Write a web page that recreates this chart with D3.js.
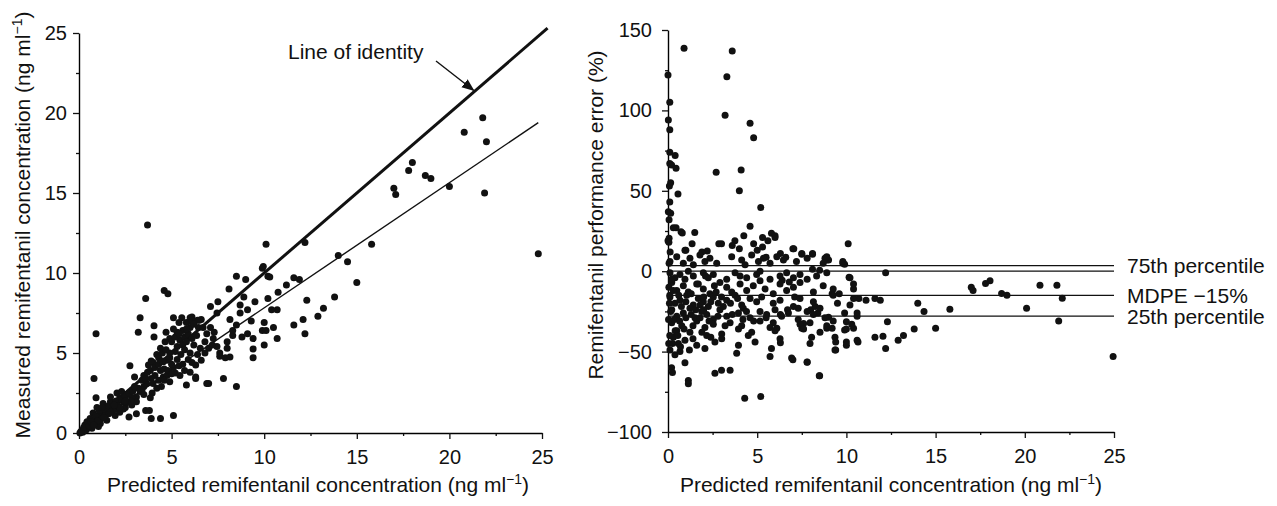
<!DOCTYPE html>
<html>
<head>
<meta charset="utf-8">
<script src="https://cdn.jsdelivr.net/npm/d3@7"></script>
<style>
  body { margin: 0; background: #fff; }
  svg text { font-family: "Liberation Sans", Arial, Helvetica, sans-serif; fill: #111; }
</style>
</head>
<body>
<svg id="chart" width="1277" height="506"></svg>
<script>
// predicted vs measured remifentanil (ng/ml)
const measuredPoints = [
  [20.8,18.8],[21.8,19.7],[22.0,18.2],[18.0,16.9],[17.8,16.4],[18.7,16.1],[19.0,15.9],[17.0,15.3],[17.1,14.9],
  [20.0,15.4],[21.9,15.0],[15.8,11.8],[12.2,11.9],[14.0,11.1],[24.8,11.2],[14.5,10.7],[15.0,9.4],[12.3,8.3],
  [13.8,8.5],[13.2,7.8],[12.9,7.3],[12.1,7.1],[12.2,6.2],[11.9,9.6],[3.7,13.0],[10.1,11.8],
  [0.92,6.2],[0.81,3.4],[0.92,2.2],[3.6,8.4],[4.6,8.9],[4.8,8.7],[3.3,7.2],[3.2,6.3],[4.05,6.7],[4.05,6.0],
  [2.75,4.2],[3.0,3.5],[3.6,1.4],[3.9,0.9],[5.1,1.1],[2.7,1.0],[3.1,1.2],[5.1,7.2],[6.0,7.2],[6.6,7.1],
  [5.8,3.0],[6.3,3.4],[6.9,3.1],[7.8,3.4],[8.5,2.9],[7.1,7.9],[7.5,8.2],[8.1,9.0],[8.5,9.8],[9.0,9.6],
  [9.9,10.3],[10.2,9.8],[11.6,9.7],[11.6,6.75],[10.7,7.7],[10.7,5.9],[10.5,6.6],[10.0,5.5],[9.4,4.7],
  [9.4,5.25],[9.9,6.4],[10.0,6.9],[9.3,7.0],[9.5,8.2],[9.1,7.7],[8.9,8.5],[8.7,8.0],[8.7,7.5],[9.1,6.2],
  [9.4,5.9],[8.3,6.1],[8.0,5.7],[7.6,5.0],[7.6,4.8],[7.9,4.7],[8.15,4.75],[8.0,5.3],[8.3,6.4],[8.5,6.75],
  [8.15,7.1],[7.45,7.5],[7.1,6.6],[6.9,6.2],[7.25,5.9],[7.45,5.4],[6.55,5.3],[6.6,4.55],[6.3,4.25],[6.0,3.8],
  [5.7,3.9],[5.45,3.6],[5.2,3.75],[5.1,4.1],[4.75,4.55],[4.9,5.0],[5.3,5.4],[5.45,5.8],[5.7,6.0],[5.9,6.2],
  [6.1,5.9],[6.35,6.1],[6.45,6.6],[6.0,6.6],[5.6,6.4],[5.3,6.3],[4.9,5.9],[4.65,5.7],[4.4,5.3],[4.2,4.9],
  [4.55,4.45],[4.0,4.4],[3.75,4.25],[3.85,3.9],[4.1,3.6],[4.3,3.3],[4.4,3.9],[4.55,3.5],[4.75,3.6],[4.9,3.2],
  [4.45,2.9],[4.2,2.8],[3.95,2.5],[3.85,2.2],[3.65,3.1],[3.4,3.3],[3.5,2.9],[3.3,2.6],[3.1,2.25],[2.85,2.2],
  [2.6,2.4],[2.4,1.95],[2.2,2.2],[2.05,1.85],[1.85,1.6],[1.7,1.95],[1.5,1.55],[1.3,1.3],[1.15,1.1],[0.97,0.9],
  [0.76,0.7],[0.6,0.5],[0.43,0.4],[0.22,0.2],[0.16,0.1],[1.15,0.6],[1.5,0.8],[1.95,1.1],[2.2,1.3],[2.5,1.6],
  [2.85,1.75],[3.1,1.95],[1.05,0.4],[0.7,0.3],[0.5,0.6],[0.32,0.5],[0.05,0.0],[0.2,0.05],[1.7,2.25],[1.3,1.85],
  [0.97,1.6],[0.76,1.25],[0.6,0.9],[0.43,0.7],[2.05,2.5],[2.3,2.6],[9.95,10.4],[10.75,8.8],[11.2,9.25],
  [5.55,7.2],[6.5,7.05],[5.8,6.9],[6.1,6.95],[10.3,9.75],[10.2,8.4],[10.4,7.7],[10.1,6.4],[8.8,6.0],
  [7.0,3.1],[6.3,3.5],[6.1,7.25],[6.4,7.05],[3.8,1.4],[4.4,0.9],
  [1.4,1.4],[1.6,1.7],[1.8,1.9],[2.0,2.0],[2.3,2.1],[2.5,2.3],[2.7,2.5],[2.9,2.6],[1.2,0.9],[1.4,1.1],
  [1.6,1.2],[1.8,1.4],[2.0,1.5],[0.85,0.65],[0.3,0.3],[0.4,0.2],[0.1,0.1],[0.25,0.35],[0.55,0.45],
  [0.65,0.7],[0.9,1.1],[1.1,1.4],[1.25,1.6],[3.2,2.8],[3.5,3.6],[3.7,3.8],[3.9,4.5],[4.3,4.7],[4.5,5.0],
  [4.7,5.2],[5.0,5.7],[5.2,6.0],[5.4,6.2],[5.6,5.5],[5.8,5.7],[5.0,4.3],[5.3,4.6],[5.5,4.9],[5.7,5.2],
  [6.2,5.5],[6.8,5.7],[7.0,5.3],[6.0,5.0],[4.6,4.0],[4.8,3.9],
  [4.1,4.1],[4.3,4.3],[3.9,3.4],[3.6,3.4],[3.4,2.7],[3.0,2.9],[2.8,2.0],[2.6,1.9],[2.4,1.5],[3.5,2.4],
  [4.0,3.1],[4.6,3.3],[5.0,3.7],[5.4,4.2],[5.6,4.3],[5.9,4.6],[6.1,4.4],[6.4,4.9],[6.8,5.0],[7.2,5.5],
  [5.2,5.1],[4.9,4.7],[4.5,4.5],[5.8,6.5],[6.2,6.8],[5.4,6.9],[4.7,6.3],[5.1,6.5],[6.7,6.6],[7.3,6.3],
  [1.0,0.75],[0.8,0.5],[1.35,0.95],[1.7,1.3],[2.1,1.7],[2.5,2.0],[2.2,1.6],[1.9,1.75]
];

// predicted vs performance error (%)
const errorPoints = [
  [0.9,138.7],[3.6,137],[3.3,121],[0,122],[0.1,105],[0.02,94],[0.1,88],[3.2,97],[4.6,92],[4.8,83],
  [0.1,74],[0.4,72],[0.1,67],[0.2,66],[0.45,64],[2.7,61.5],[4.1,63],[4.0,50],[0.15,55],[0.08,53],
  [0.56,48],[0.1,43],[0.02,37],[0.15,36],[0.06,32],[5.2,39.6],[4.6,28],[0.45,27],[0.73,24.5],[1.5,24],
  [0,19],[0.06,20.5],[2.85,17],[3.75,19],[4.25,22],[5.3,21],[1.35,17],[1.0,13],[2.2,12.5],
  [0.3,27],[0.8,23.7],[0.05,18],[3.0,17],[5.6,19],[6.0,22],[7.05,14],[7.5,10.5],[8.1,10.5],[10.1,17],
  [0.95,13],[1.9,12],[3.6,16],[4.0,14],[4.8,17],[5.0,13],[5.3,15],[5.5,8.7],[6.3,11],[6.6,8.7],
  [8.9,7],[9.8,5],[8.1,1.2],[8.5,0.6],
  [12.2,-1],[9.0,7],[9.9,4.3],[10.15,-3.7],[10.4,-11],[10.7,-17],[11.1,-18],[11.6,-17],[11.9,-18],
  [10.6,-26],[12.3,-31.5],[14.0,-20],[14.35,-25],[15.8,-23.6],[17.0,-10],[17.1,-12],[17.8,-7.6],[18.05,-6],
  [18.7,-13.8],[19.0,-15],[20.1,-23],[20.85,-8.7],[21.8,-8.7],[22.1,-16.8],[21.9,-31],[24.95,-53],
  [15.0,-35.5],[13.8,-36],[13.2,-40],[12.9,-43],[12.2,-48],[12.05,-40.5],[11.6,-41],[10.65,-44],[10.0,-44],
  [9.4,-44],[9.4,-49],[8.5,-65],[7.8,-56.6],[7.0,-55],[6.3,-44.5],[5.8,-48],[5.2,-78],[4.3,-79],
  [10.0,-31.5],[9.9,-36.6],[10.4,-35.5],[9.0,-28.6],[8.9,-35.5],[9.2,-35.5],[9.5,-20],[9.2,-14],[9.6,-14],
  [10.4,-17],[8.0,-24],[8.25,-22],[8.4,-26],[7.6,-32.6],[7.5,-35.5],[8.05,-41],[7.0,14],[7.5,11],[8.1,11],
  [8.8,8],[6.0,21],[5.8,23.6],[6.4,-5.6],[6.8,-6.7],[7.1,-16],[6.7,-24],[7.3,-23],[6.3,-27],
  [5.9,-32],[6.1,-35.5],[5.5,-29],
  [0.2,-60],[0.25,-63],[0.95,-57],[2.63,-63.5],[3.0,-61.6],[3.48,-61.6],[1.14,-68],[1.14,-70],[6.93,-54],
  [7.8,-56.5],[8.48,-65],
  [0.11,6],[0.49,9],[0.86,5],[1.23,8],[1.42,4],[1.79,10],[2.07,6],[2.35,8],[2.73,5],[3.57,9],[4.13,7],
  [4.32,4],[4.69,10],[5.07,6],[5.35,8],[5.72,5],[6.1,9],[6.47,7],[7.2,6],[7.8,8],[8.7,5],[8.9,9],[9.8,6],
  [0.11,-1],[0.39,-4],[0.67,-2],[0.95,-5],[1.14,0],[1.42,-3],[1.98,-1],[2.26,-4],[2.54,-2],[3.29,-5],
  [3.76,-1],[4.04,-3],[4.41,-4],[4.97,-2],[5.16,0],[5.72,-5],[6.28,-3],[6.65,-1],[7.03,-4],[7.4,-2],
  [7.8,-5],[8.33,-3],[8.9,-1],[10.2,-4],
  [0.21,-7],[0.49,-12],[0.86,-9],[1.14,-13],[1.61,-8],[1.98,-11],[2.35,-14],[2.91,-7],[3.29,-10],[3.57,-13],
  [4.04,-8],[4.41,-12],[4.78,-9],[5.16,-6],[5.44,-11],[5.9,-14],[6.28,-8],[6.65,-12],[7.03,-10],[7.4,-7],
  [8.15,-13],[8.7,-9],[9.26,-11],[10.4,-8],
  [0.11,-16],[0.39,-20],[0.67,-18],[1.05,-15],[1.42,-21],[1.7,-17],[1.98,-19],[2.26,-22],[2.54,-16],
  [2.82,-20],[3.29,-18],[3.76,-15],[4.13,-21],[4.6,-17],[4.97,-19],[5.25,-16],[5.9,-20],[6.28,-18],
  [7.03,-22],[7.4,-17],[8.15,-19],[9.26,-15],[10.2,-21],
  [0.21,-24],[0.49,-28],[0.86,-26],[1.23,-23],[1.51,-29],[1.89,-25],[2.17,-27],[2.54,-30],[2.91,-24],
  [3.29,-28],[3.95,-26],[4.22,-23],[4.6,-29],[5.16,-25],[5.53,-27],[6.0,-24],[6.37,-28],[6.75,-26],
  [7.3,-30],[7.8,-25],[8.15,-27],[8.52,-23],[8.8,-29],[9.9,-26],[10.6,-28],
  [0.21,-32],[0.49,-37],[0.77,-34],[1.23,-38],[1.61,-31],[2.07,-35],[2.54,-33],[3.01,-39],[3.48,-32],
  [3.95,-36],[4.13,-34],[4.69,-38],[5.16,-31],[5.72,-35],[6.0,-37],[7.4,-33],[7.6,-36],[7.96,-32],
  [8.52,-38],[8.9,-34],[9.26,-31],[10.0,-36],[10.3,-33],
  [0.3,-41],[0.58,-45],[0.95,-43],[1.61,-46],[2.17,-40],[2.63,-44],[3.01,-42],[3.95,-46],[4.5,-40],
  [4.88,-44],[6.28,-42],[7.96,-45],[9.36,-41],[10.0,-46],[10.6,-43],
  [0.11,-49],[0.39,-52],[0.67,-50],[2.07,-48],[3.85,-51],[5.72,-53],[9.36,-49],
  [0.05,-10],[0.08,-20],[0.03,-30],[0.1,-40],[0.06,5],[0.12,12],[0.04,-45],[0.15,-25],[0.1,-15],[0.2,-5],
  [0.3,-12],[0.6,-15],[0.75,-22],[1.0,-19],[1.3,-14],[1.55,-24],[1.8,-21],[2.0,-16],[2.4,-19],[2.7,-13],
  [3.1,-22],[3.5,-20],[0.35,-30],[0.65,-31],[1.0,-29],[1.4,-34],[1.8,-29],[2.3,-31],[2.8,-28],[3.2,-34],
  [0.4,-37],[0.9,-36],[1.4,-42],[1.9,-38],[2.4,-41],[0.25,-45],[0.7,-47],[1.2,-49],[0.55,-40],[1.7,-8],
  [2.1,-3],[2.6,-9],[3.0,-16],[3.9,-17],[4.4,-25],[4.8,-31],[1.3,-27],[2.0,-24],[3.6,-27],[4.2,-30]
];

const identityLine = [[0, 0], [25.3, 25.3]];
const regressionLine = [[0, 0], [24.8, 19.4]];
const refLines = [
  { value: 3.5, label: "75th percentile" },
  { value: 0, label: "" },
  { value: -15, label: "MDPE \u221215%" },
  { value: -28, label: "25th percentile" }
];
const concTicks = [0, 5, 10, 15, 20, 25];
const concMinor = [2.5, 7.5, 12.5, 17.5, 22.5];
const errorTicks = [-100, -50, 0, 50, 100, 150];
const errorMinor = [-75, -25, 25, 75, 125];

const svg = d3.select("#chart");
const fs = 21;     // titles and labels
const tickFs = 20; // tick numbers

// left panel
const xL = d3.scaleLinear().domain([0, 25]).range([79, 542]);
const yL = d3.scaleLinear().domain([0, 25]).range([433, 33]);

// right panel
const xR = d3.scaleLinear().domain([0, 25]).range([668, 1114]);
const yR = d3.scaleLinear().domain([-100, 150]).range([432, 30]);

function axes(x, y, yMajor, yMinor, yFmt, yPad) {
  const y0 = y.range()[0], x0 = x.range()[0];
  svg.append("g").attr("transform", `translate(0,${y0})`)
    .call(d3.axisBottom(x).tickValues(concMinor).tickSize(3).tickFormat(""))
    .call(g => g.select(".domain").remove());
  const gx = svg.append("g").attr("transform", `translate(0,${y0})`)
    .call(d3.axisBottom(x).tickValues(concTicks).tickSize(6).tickSizeOuter(0).tickPadding(11));
  svg.append("g").attr("transform", `translate(${x0},0)`)
    .call(d3.axisLeft(y).tickValues(yMinor).tickSize(3).tickFormat(""))
    .call(g => g.select(".domain").remove());
  const gy = svg.append("g").attr("transform", `translate(${x0},0)`)
    .call(d3.axisLeft(y).tickValues(yMajor).tickSize(6).tickSizeOuter(0).tickPadding(yPad).tickFormat(yFmt));
  [gx, gy].forEach(g => {
    g.selectAll("text").style("font-size", tickFs + "px");
    g.select(".domain").attr("stroke-width", 1.4);
  });
  svg.selectAll(".tick line").attr("stroke", "#111").attr("stroke-width", 1.3);
}

axes(xL, yL, concTicks, concMinor, d3.format("d"), 6);
axes(xR, yR, errorTicks, errorMinor, d => d < 0 ? "\u2212" + Math.abs(d) : d, 10);

// left panel lines & points
const lineL = d3.line().x(d => xL(d[0])).y(d => yL(d[1]));
svg.append("path").datum(identityLine).attr("d", lineL)
  .attr("fill", "none").attr("stroke", "#111").attr("stroke-width", 3);
svg.append("path").datum(regressionLine).attr("d", lineL)
  .attr("fill", "none").attr("stroke", "#111").attr("stroke-width", 1.4);

svg.append("g").selectAll("circle").data(measuredPoints).join("circle")
  .attr("cx", d => xL(d[0])).attr("cy", d => yL(d[1])).attr("r", 3.5).attr("fill", "#111");

// annotation arrow
svg.append("defs").append("marker")
  .attr("id", "arrow").attr("viewBox", "0 0 10 10").attr("refX", 9).attr("refY", 5)
  .attr("markerWidth", 9).attr("markerHeight", 9).attr("orient", "auto")
  .append("path").attr("d", "M0,1 L10,5 L0,9 Z").attr("fill", "#111");
svg.append("text").attr("x", 288).attr("y", 59).style("font-size", fs + "px").text("Line of identity");
svg.append("line")
  .attr("x1", 436).attr("y1", 61).attr("x2", xL(21.3)).attr("y2", yL(21.3) - 2)
  .attr("stroke", "#111").attr("stroke-width", 1.4).attr("marker-end", "url(#arrow)");

// right panel lines & points
svg.append("g").selectAll("line").data(refLines).join("line")
  .attr("x1", xR(0)).attr("x2", xR(25))
  .attr("y1", d => yR(d.value)).attr("y2", d => yR(d.value))
  .attr("stroke", "#111").attr("stroke-width", 1.3);
svg.append("g").selectAll("text").data(refLines.filter(d => d.label)).join("text")
  .attr("x", 1127).attr("y", d => yR(d.value)).attr("dy", "0.35em")
  .style("font-size", fs + "px").text(d => d.label);

svg.append("g").selectAll("circle").data(errorPoints).join("circle")
  .attr("cx", d => xR(d[0])).attr("cy", d => yR(d[1])).attr("r", 3.5).attr("fill", "#111");

// axis titles
function concTitle(sel) {
  sel.style("font-size", fs + "px");
  sel.append("tspan").text(sel.attr("data-t") + " (ng ml");
  sel.append("tspan").attr("dy", -8).style("font-size", "14px").text("\u22121");
  sel.append("tspan").attr("dy", 8).text(")");
}
svg.append("text").attr("data-t", "Predicted remifentanil concentration")
  .attr("x", 318).attr("y", 492).attr("text-anchor", "middle").call(concTitle);
svg.append("text").attr("data-t", "Predicted remifentanil concentration")
  .attr("x", 891).attr("y", 492).attr("text-anchor", "middle").call(concTitle);
svg.append("text").attr("data-t", "Measured remifentanil concentration")
  .attr("transform", "translate(30,225) rotate(-90)").attr("text-anchor", "middle").call(concTitle);
svg.append("text").attr("transform", "translate(603,215) rotate(-90)").attr("text-anchor", "middle")
  .style("font-size", fs + "px").text("Remifentanil performance error (%)");
</script>
</body>
</html>
